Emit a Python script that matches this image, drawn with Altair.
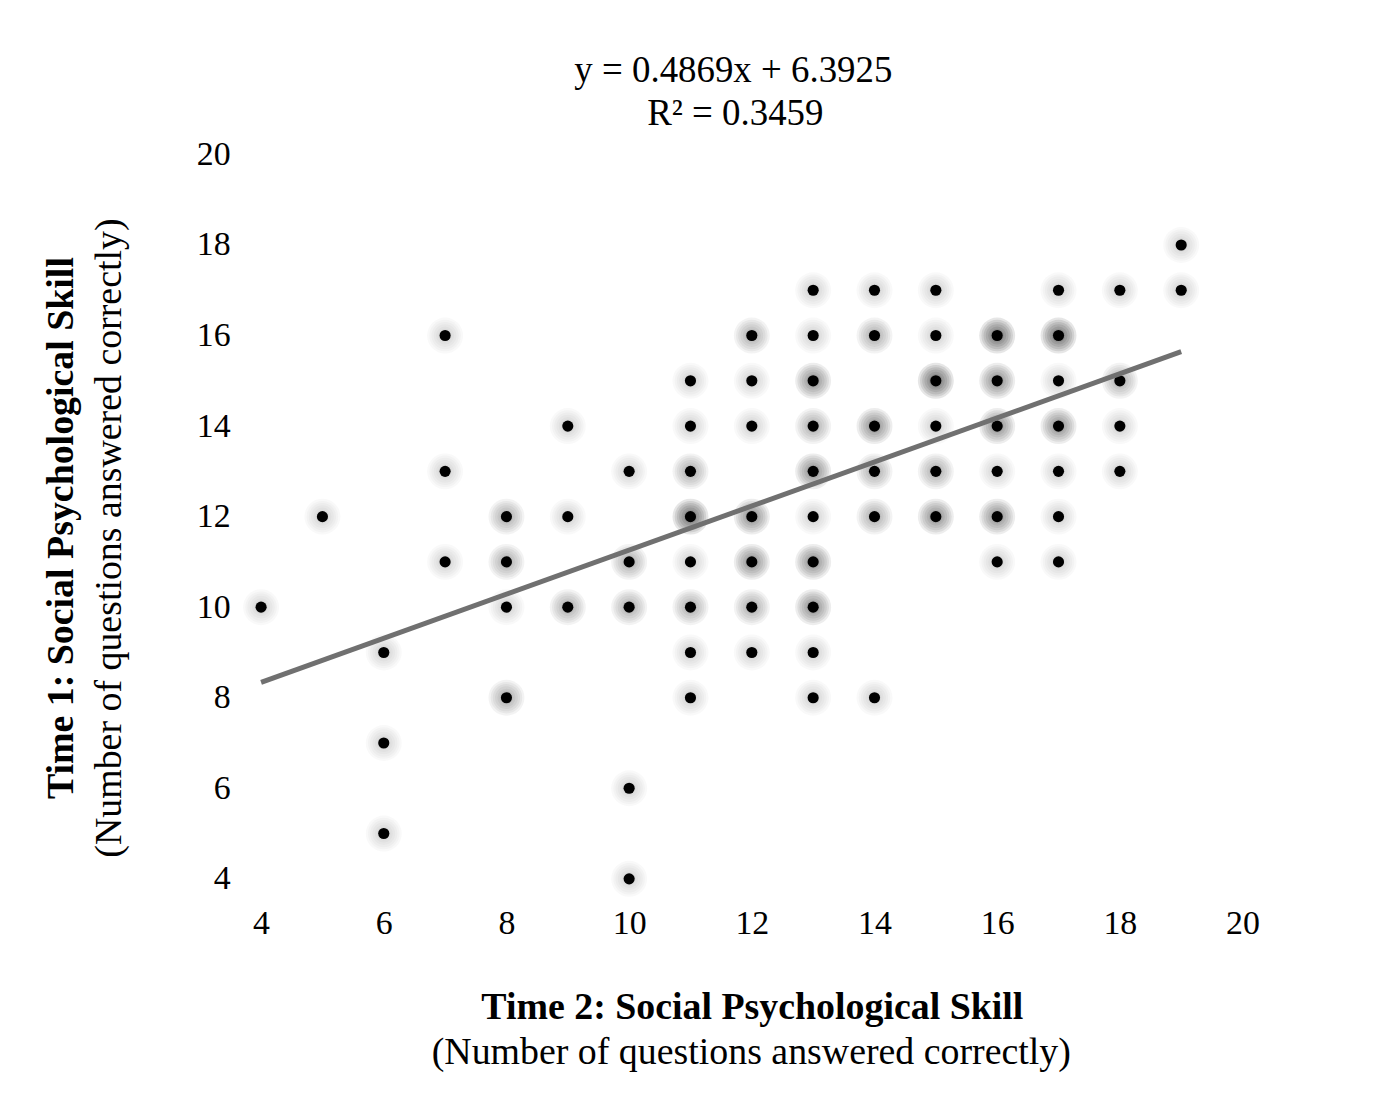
import altair as alt
import pandas as pd

# Time 2 score (x), Time 1 score (y), number of overlapping respondents
x_vals = [4, 5, 6, 6, 6, 7, 7, 7,
          8, 8, 8, 8, 9, 9, 9,
          10, 10, 10, 10, 10,
          11, 11, 11, 11, 11, 11, 11, 11,
          12, 12, 12, 12, 12, 12, 12,
          13, 13, 13, 13, 13, 13, 13, 13, 13, 13,
          14, 14, 14, 14, 14, 14,
          15, 15, 15, 15, 15, 15,
          16, 16, 16, 16, 16, 16,
          17, 17, 17, 17, 17, 17, 17,
          18, 18, 18, 18, 19, 19]
y_vals = [10, 12, 9, 7, 5, 16, 13, 11,
          12, 11, 10, 8, 14, 12, 10,
          13, 11, 10, 6, 4,
          15, 14, 13, 12, 11, 10, 9, 8,
          16, 15, 14, 12, 11, 10, 9,
          17, 16, 15, 14, 13, 12, 11, 10, 9, 8,
          17, 16, 14, 13, 12, 8,
          17, 16, 15, 14, 13, 12,
          16, 15, 14, 13, 12, 11,
          17, 16, 15, 14, 13, 12, 11,
          17, 15, 14, 13, 18, 17]
counts = [1, 1, 1, 1, 1, 1, 1, 1,
          2, 2, 1, 2, 1, 1, 2,
          1, 2, 2, 1, 1,
          1, 1, 2, 4, 1, 2, 1, 1,
          2, 1, 1, 3, 3, 2, 1,
          1, 1, 3, 2, 3, 1, 3, 3, 1, 1,
          1, 2, 3, 2, 2, 1,
          1, 1, 4, 1, 2, 3,
          4, 3, 3, 1, 3, 1,
          1, 4, 1, 3, 1, 1, 1,
          1, 2, 1, 1, 1, 1]

slope = 0.4869
intercept = 6.3925
trend_x = [4, 19]

FONT = "Liberation Serif"

df = pd.DataFrame({"x": x_vals, "y": y_vals, "n": counts})
trend_df = pd.DataFrame({"x": trend_x, "y": [slope * v + intercept for v in trend_x]})

ticks = list(range(4, 21, 2))
x_enc = alt.X("x:Q", scale=alt.Scale(domain=[4, 20], nice=False),
              axis=alt.Axis(values=ticks, format="d", title=None, domain=False, ticks=False,
                            grid=False, labelFont=FONT, labelFontSize=34, labelColor="black",
                            labelFlush=False, labelPadding=28))
y_enc = alt.Y("y:Q", scale=alt.Scale(domain=[4, 20], nice=False),
              axis=alt.Axis(values=ticks, format="d", title=None, domain=False, ticks=False,
                            grid=False, labelFont=FONT, labelFontSize=34, labelColor="black",
                            labelFlush=False, labelPadding=31))

base = alt.Chart(df).encode(x=x_enc, y=y_enc)

# soft halo = stacked transparent discs, darker where more people overlap
halo_layers = []
for size, top in [(1300, 0.12), (1000, 0.14), (750, 0.16), (520, 0.18), (330, 0.2), (190, 0.2)]:
    halo_layers.append(base.mark_circle(size=size, color="#333333").encode(
        opacity=alt.Opacity("n:Q", scale=alt.Scale(domain=[0, 4], range=[0, top]), legend=None)))

dots = base.mark_circle(size=125, color="black", opacity=1)

trend = alt.Chart(trend_df).mark_line(color="#707070", strokeWidth=5).encode(x="x:Q", y="y:Q")


def label(text, dx, dy, size, weight="normal", angle=0):
    return alt.Chart(pd.DataFrame({"t": [text]})).mark_text(
        font=FONT, fontSize=size, fontWeight=weight, angle=angle, color="black",
        align="center", baseline="middle").encode(
        text="t:N", x=alt.value(dx), y=alt.value(dy))


texts = [
    label("y = 0.4869x + 6.3925", 474, -84, 37),
    label("R² = 0.3459", 476, -41, 37),
    label("Time 2: Social Psychological Skill", 493, 857, 38, "bold"),
    label("(Number of questions answered correctly)", 492, 902, 38),
    label("Time 1: Social Psychological Skill", -200, 375, 38, "bold", 270),
    label("(Number of questions answered correctly)", -152, 385, 38, "normal", 270),
]

chart = alt.layer(*halo_layers, dots, trend, *texts).properties(
    width=985, height=727,
    autosize=alt.AutoSizeParams(type="none"),
    padding={"left": 254, "top": 145, "right": 150, "bottom": 220},
).configure_view(stroke=None)

chart.save("out.html", embed_options={"renderer": "svg", "actions": False})
